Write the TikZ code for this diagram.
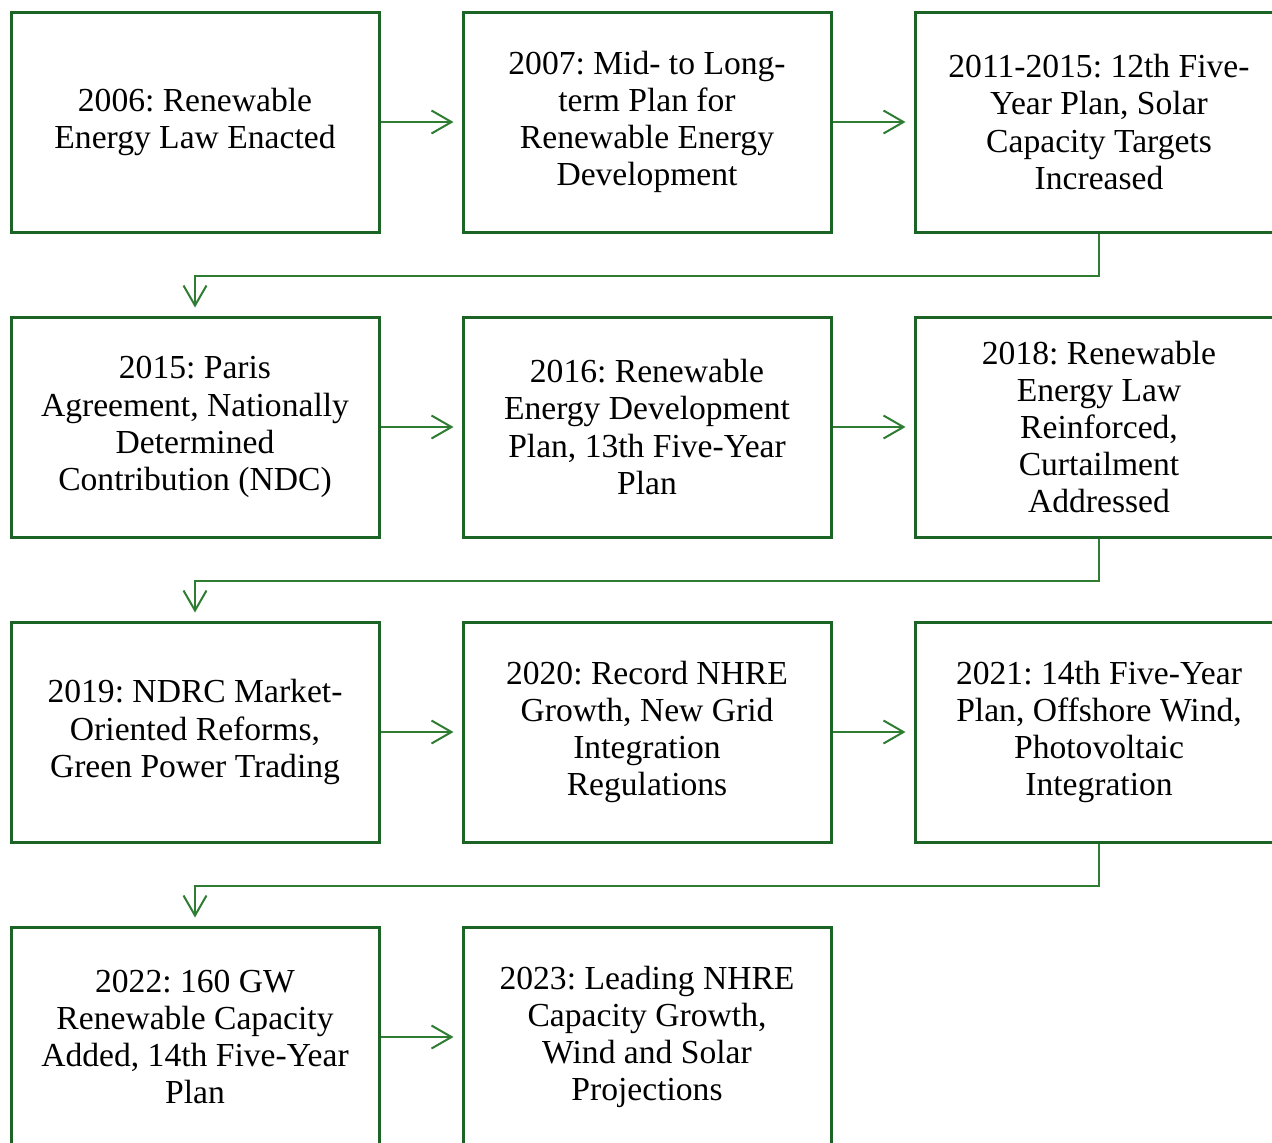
\documentclass[tikz,border=0pt]{standalone}
\usepackage{fontspec}
\setmainfont{Liberation Serif}
\usetikzlibrary{arrows.meta}
\definecolor{boxgreen}{RGB}{27,100,38}
\definecolor{arrgreen}{RGB}{46,125,50}
\frenchspacing
\begin{document}
\begin{tikzpicture}[x=0.5pt,y=-0.5pt,
  evbox/.style={draw=boxgreen, line width=1.5pt, fill=white, minimum width=184pt, minimum height=110pt, align=center, inner sep=2pt, font=\fontsize{16.8}{18.6}\selectfont, text=black},
  flow/.style={draw=arrgreen, line width=1pt, -{Straight Barb[length=10pt,width=11.5pt,line width=1pt]}, shorten >=4pt}
]
\useasboundingbox (0,0) rectangle (1272,1142);
\node[evbox] (a) at (195,122) {2006: Renewable\\Energy Law Enacted};
\node[evbox] (b) at (647,122) {2007: Mid- to Long-\\term Plan for\\Renewable Energy\\Development};
\node[evbox] (c) at (1099,122) {2011-2015: 12th Five-\\Year Plan, Solar\\Capacity Targets\\Increased};
\node[evbox] (d) at (195,427) {2015: Paris\\Agreement, Nationally\\Determined\\Contribution (NDC)};
\node[evbox] (e) at (647,427) {2016: Renewable\\Energy Development\\Plan, 13th Five-Year\\Plan};
\node[evbox] (f) at (1099,427) {2018: Renewable\\Energy Law\\Reinforced,\\Curtailment\\Addressed};
\node[evbox] (g) at (195,732) {2019: NDRC Market-\\Oriented Reforms,\\Green Power Trading};
\node[evbox] (h) at (647,732) {2020: Record NHRE\\Growth, New Grid\\Integration\\Regulations};
\node[evbox] (i) at (1099,732) {2021: 14th Five-Year\\Plan, Offshore Wind,\\Photovoltaic\\Integration};
\node[evbox] (j) at (195,1037) {2022: 160 GW\\Renewable Capacity\\Added, 14th Five-Year\\Plan};
\node[evbox] (k) at (647,1037) {2023: Leading NHRE\\Capacity Growth,\\Wind and Solar\\Projections};
\draw[flow] (a.east) -- (b.west);
\draw[flow] (b.east) -- (c.west);
\draw[flow] (d.east) -- (e.west);
\draw[flow] (e.east) -- (f.west);
\draw[flow] (g.east) -- (h.west);
\draw[flow] (h.east) -- (i.west);
\draw[flow] (j.east) -- (k.west);
\draw[flow] (c.south) -- ++(0,42) -| (d.north);
\draw[flow] (f.south) -- ++(0,42) -| (g.north);
\draw[flow] (i.south) -- ++(0,42) -| (j.north);
\end{tikzpicture}
\end{document}
